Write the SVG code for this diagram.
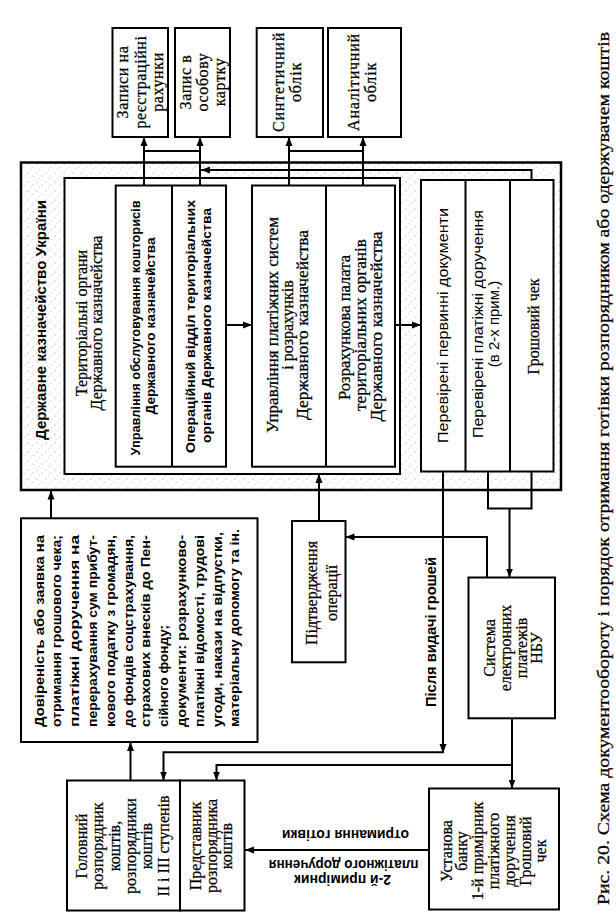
<svg xmlns="http://www.w3.org/2000/svg" width="616" height="924" viewBox="0 0 616 924">
<defs>
<style>
.box{fill:#fff;stroke:#000;stroke-width:2}
.frame{stroke:#000;stroke-width:2.5}
.ln{fill:none;stroke:#000;stroke-width:2}
.s{font-family:"Liberation Serif","Times New Roman",serif;font-size:16px;fill:#000;stroke:#000;stroke-width:0.25}
.a{font-family:"Liberation Sans",Arial,sans-serif;fill:#000}
.b{font-weight:bold}
</style>
<pattern id="stip" width="9" height="9" patternUnits="userSpaceOnUse">
<rect width="9" height="9" fill="#fff"/>
<circle cx="1" cy="2" r="0.55" fill="#888"/>
<circle cx="6" cy="5" r="0.5" fill="#999"/>
<circle cx="3.5" cy="7.5" r="0.45" fill="#aaa"/>
</pattern>
<marker id="ah" markerWidth="10" markerHeight="8" refX="9" refY="4" orient="auto" markerUnits="userSpaceOnUse">
<path d="M0,0.5 L9,4 L0,7.5 z" fill="#000"/>
</marker>
</defs>
<rect width="616" height="924" fill="#fff"/>

<g id="treasury">
<rect class="frame" x="21" y="162.5" width="540" height="327.5" fill="url(#stip)"/>
<text class="a b" font-size="15" text-anchor="middle" transform="translate(45.5,320) rotate(-90)" textLength="240" lengthAdjust="spacingAndGlyphs">Державне казначейство України</text>
</g>

<g id="territorial">
<rect class="box" x="64.5" y="178" width="335.5" height="296"/>
<text class="s" text-anchor="middle" transform="translate(87,323) rotate(-90)">Територіальні органи</text>
<text class="s" text-anchor="middle" transform="translate(102,323) rotate(-90)">Державного казначейства</text>
</g>

<g id="connectors" class="ln">
<path d="M144,185.5 V137" marker-end="url(#ah)"/>
<path d="M200,185.5 V137" marker-end="url(#ah)"/>
<path d="M144,151 H200"/>
<path d="M289,185.5 V137" marker-end="url(#ah)"/>
<path d="M363,185.5 V137" marker-end="url(#ah)"/>
<path d="M289,151 H363"/>
<path d="M531.5,180 V170 H201" marker-end="url(#ah)"/>
<path d="M226,325 H252" marker-end="url(#ah)"/>
<path d="M395,325 H421" marker-end="url(#ah)"/>
<path d="M51,518.3 V490.5" marker-end="url(#ah)"/>
<path d="M319,521 V474" marker-end="url(#ah)"/>
<path d="M488,471.5 V508.5 H531.5 V471.5"/>
<path d="M509.5,508.5 V577.5" marker-end="url(#ah)"/>
<path d="M487,577.5 V537 H345.5" marker-end="url(#ah)"/>
<path d="M443,471.5 V753" marker-end="url(#ah)"/>
<path d="M443,752.3 H163.5 V780.5" marker-end="url(#ah)"/>
<path d="M512,718.3 V788.5" marker-end="url(#ah)"/>
<path d="M512,765 H216.5 V780.5" marker-end="url(#ah)"/>
<path d="M130.5,780.5 V742" marker-end="url(#ah)"/>
<path d="M429,850 H245" marker-end="url(#ah)"/>
</g>

<g id="records">
<rect class="box" x="112.5" y="28" width="55.5" height="109"/>
<text class="s" letter-spacing="0.6" text-anchor="middle" transform="translate(127.7,82) rotate(-90)">Записи на</text>
<text class="s" letter-spacing="0.6" text-anchor="middle" transform="translate(145.5,82) rotate(-90)">реєстраційні</text>
<text class="s" letter-spacing="0.6" text-anchor="middle" transform="translate(163.3,82) rotate(-90)">рахунки</text>
</g>

<g id="card">
<rect class="box" x="175" y="28" width="55" height="109"/>
<text class="s" letter-spacing="0.6" text-anchor="middle" transform="translate(190.9,82) rotate(-90)">Запис в</text>
<text class="s" letter-spacing="0.6" text-anchor="middle" transform="translate(207.8,82) rotate(-90)">особову</text>
<text class="s" letter-spacing="0.6" text-anchor="middle" transform="translate(224.8,82) rotate(-90)">картку</text>
</g>

<g id="synthetic">
<rect class="box" x="256.7" y="28" width="66.3" height="109"/>
<text class="s" letter-spacing="0.8" text-anchor="middle" transform="translate(283.7,82) rotate(-90)">Синтетичний</text>
<text class="s" letter-spacing="0.8" text-anchor="middle" transform="translate(301.3,82) rotate(-90)">облік</text>
</g>

<g id="analytic">
<rect class="box" x="328" y="28" width="73" height="109"/>
<text class="s" letter-spacing="0.8" text-anchor="middle" transform="translate(358.8,82) rotate(-90)">Аналітичний</text>
<text class="s" letter-spacing="0.8" text-anchor="middle" transform="translate(376.3,82) rotate(-90)">облік</text>
</g>

<g id="servicing">
<rect class="box" x="115.7" y="185.5" width="110.3" height="281.2"/>
<path class="ln" d="M172,185.5 V466.7"/>
<text class="a b" font-size="13.5" text-anchor="middle" transform="translate(139.5,328) rotate(-90)" textLength="255" lengthAdjust="spacingAndGlyphs">Управління обслуговування кошторисів</text>
<text class="a b" font-size="13.5" text-anchor="middle" transform="translate(154.5,326) rotate(-90)" textLength="177" lengthAdjust="spacingAndGlyphs">Державного казначейства</text>
<text class="a b" font-size="13.5" text-anchor="middle" transform="translate(195,326.5) rotate(-90)" textLength="253" lengthAdjust="spacingAndGlyphs">Операційний відділ територіальних</text>
<text class="a b" font-size="13.5" text-anchor="middle" transform="translate(210.5,325.5) rotate(-90)" textLength="235" lengthAdjust="spacingAndGlyphs">органів Державного казначейства</text>
</g>

<g id="payments">
<rect class="box" x="252" y="185.5" width="143" height="281.2"/>
<path class="ln" d="M326,185.5 V466.7"/>
<text class="s" font-size="15.5" text-anchor="middle" transform="translate(278,325) rotate(-90)" textLength="216" lengthAdjust="spacingAndGlyphs">Управління платіжних систем</text>
<text class="s" font-size="15.5" text-anchor="middle" transform="translate(293,325) rotate(-90)">і розрахунків</text>
<text class="s" font-size="15.5" text-anchor="middle" transform="translate(308,325) rotate(-90)" textLength="190" lengthAdjust="spacingAndGlyphs">Державного казначейства</text>
<text class="s" font-size="15.5" text-anchor="middle" transform="translate(350,327.5) rotate(-90)" textLength="145" lengthAdjust="spacingAndGlyphs">Розрахункова палата</text>
<text class="s" font-size="15.5" text-anchor="middle" transform="translate(365.5,325) rotate(-90)" textLength="172" lengthAdjust="spacingAndGlyphs">територіальних органів</text>
<text class="s" font-size="15.5" text-anchor="middle" transform="translate(381.5,326.5) rotate(-90)" textLength="190" lengthAdjust="spacingAndGlyphs">Державного казначейства</text>
</g>

<g id="checked">
<rect class="box" x="421" y="180" width="132.5" height="291.5"/>
<path class="ln" d="M465.5,180 V471.5 M510,180 V471.5"/>
<text class="a" font-size="15" text-anchor="middle" transform="translate(448.3,325.5) rotate(-90)" textLength="235" lengthAdjust="spacingAndGlyphs">Перевірені первинні документи</text>
<text class="a" font-size="15" text-anchor="middle" transform="translate(483.3,324) rotate(-90)" textLength="228" lengthAdjust="spacingAndGlyphs">Перевірені платіжні доручення</text>
<text class="a" font-size="15" text-anchor="middle" transform="translate(499,324) rotate(-90)">(в 2-х прим.)</text>
<text class="s" text-anchor="middle" transform="translate(538.6,326.5) rotate(-90)">Грошовий чек</text>
</g>

<g id="documents">
<rect class="box" x="21" y="518.3" width="236.5" height="223.7"/>
<g class="a b" font-size="13.5">
<text transform="translate(43.5,727) rotate(-90)" textLength="192" lengthAdjust="spacingAndGlyphs">Довіреність або заявка на</text>
<text transform="translate(61.3,727) rotate(-90)" textLength="192" lengthAdjust="spacingAndGlyphs">отримання грошового чека;</text>
<text transform="translate(79.1,727) rotate(-90)" textLength="192" lengthAdjust="spacingAndGlyphs">платіжні доручення на</text>
<text transform="translate(96.9,727) rotate(-90)" textLength="192" lengthAdjust="spacingAndGlyphs">перерахування сум прибут-</text>
<text transform="translate(114.7,727) rotate(-90)" textLength="192" lengthAdjust="spacingAndGlyphs">кового податку з громадян,</text>
<text transform="translate(132.5,727) rotate(-90)" textLength="192" lengthAdjust="spacingAndGlyphs">до фондів соцстрахування,</text>
<text transform="translate(150.3,727) rotate(-90)" textLength="192" lengthAdjust="spacingAndGlyphs">страхових внесків до Пен-</text>
<text transform="translate(168.1,727) rotate(-90)">сійного фонду;</text>
<text transform="translate(185.9,727) rotate(-90)" textLength="192" lengthAdjust="spacingAndGlyphs">документи: розрахунково-</text>
<text transform="translate(203.7,727) rotate(-90)" textLength="192" lengthAdjust="spacingAndGlyphs">платіжні відомості, трудові</text>
<text transform="translate(221.5,727) rotate(-90)" textLength="195" lengthAdjust="spacingAndGlyphs">угоди, накази на відпустки,</text>
<text transform="translate(239.3,727) rotate(-90)" textLength="198" lengthAdjust="spacingAndGlyphs">матеріальну допомогу та ін.</text>
</g>
</g>

<g id="confirmation">
<rect class="box" x="292" y="521" width="53.5" height="141.3"/>
<text class="s" text-anchor="middle" transform="translate(317.3,593) rotate(-90)">Підтвердження</text>
<text class="s" text-anchor="middle" transform="translate(337,593) rotate(-90)">операції</text>
</g>

<g id="after-cash-label">
<text class="a b" font-size="15" text-anchor="middle" transform="translate(435.5,632) rotate(-90)" textLength="150" lengthAdjust="spacingAndGlyphs">Після видачі грошей</text>
</g>

<g id="nbu">
<rect class="box" x="468.5" y="577.5" width="86.5" height="140.8"/>
<text class="s" text-anchor="middle" transform="translate(495,648) rotate(-90)">Система</text>
<text class="s" text-anchor="middle" transform="translate(510.8,648) rotate(-90)">електронних</text>
<text class="s" text-anchor="middle" transform="translate(526.6,648) rotate(-90)">платежів</text>
<text class="s" text-anchor="middle" transform="translate(542.3,648) rotate(-90)">НБУ</text>
</g>

<g id="manager">
<rect class="box" x="67" y="780.5" width="113" height="130"/>
<text class="s" text-anchor="middle" transform="translate(86.8,846) rotate(-90)">Головний</text>
<text class="s" text-anchor="middle" transform="translate(103.2,846) rotate(-90)">розпорядник</text>
<text class="s" text-anchor="middle" transform="translate(119.6,846) rotate(-90)">коштів,</text>
<text class="s" text-anchor="middle" transform="translate(136,846) rotate(-90)">розпорядники</text>
<text class="s" text-anchor="middle" transform="translate(152.4,846) rotate(-90)">коштів</text>
<text class="s" text-anchor="middle" transform="translate(168.8,846) rotate(-90)">ІІ і ІІІ ступенів</text>
</g>

<g id="representative">
<rect class="box" x="180" y="780.5" width="64.5" height="130"/>
<text class="s" text-anchor="middle" transform="translate(201.3,846) rotate(-90)">Представник</text>
<text class="s" text-anchor="middle" transform="translate(216.8,846) rotate(-90)">розпорядника</text>
<text class="s" text-anchor="middle" transform="translate(232.3,846) rotate(-90)">коштів</text>
</g>

<g id="bank">
<rect class="box" x="429" y="788.5" width="130" height="121"/>
<text class="s" text-anchor="middle" transform="translate(451.6,851) rotate(-90)">Установа</text>
<text class="s" text-anchor="middle" transform="translate(467.4,851) rotate(-90)">банку</text>
<text class="s" text-anchor="middle" transform="translate(483.2,851) rotate(-90)">1-й примірник</text>
<text class="s" text-anchor="middle" transform="translate(499,851) rotate(-90)">платіжного</text>
<text class="s" text-anchor="middle" transform="translate(514.8,851) rotate(-90)">доручення</text>
<text class="s" text-anchor="middle" transform="translate(530.6,851) rotate(-90)">Грошовий</text>
<text class="s" text-anchor="middle" transform="translate(546.4,851) rotate(-90)">чек</text>
</g>

<g id="arrow-labels" class="a b" font-size="14" text-anchor="middle">
<text transform="translate(345.5,830.4) rotate(180)" textLength="127" lengthAdjust="spacingAndGlyphs">отримання готівки</text>
<text transform="translate(343.6,860.4) rotate(180)" textLength="150" lengthAdjust="spacingAndGlyphs">платіжного доручення</text>
<text transform="translate(342.5,875.4) rotate(180)" textLength="97" lengthAdjust="spacingAndGlyphs">2-й примірник</text>
</g>

<g id="caption">
<text class="s" font-size="18.5" text-anchor="middle" transform="translate(609,468.5) rotate(-90)" textLength="873" lengthAdjust="spacingAndGlyphs">Рис. 20. Схема документообороту і порядок отримання готівки розпорядником або одержувачем коштів</text>
</g>
</svg>
